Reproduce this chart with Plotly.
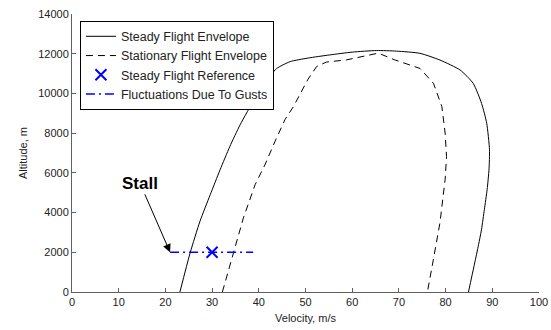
import plotly.graph_objects as go

# Steady flight envelope (solid)
steady_v = [23.1, 25.3, 27.4, 29.6, 31.7, 33.8, 36.0, 39.2, 41.5, 43.8, 46.7, 50.5, 55.2, 60.0, 65.2, 69.5,
            74.5, 78.8, 83.1, 85.9, 87.7, 88.8, 89.4, 89.3, 88.9, 88.3, 87.7, 86.9, 86.1, 84.9]
steady_h = [0, 1970, 3560, 4900, 6150, 7330, 8420, 9760, 10600, 11250, 11600, 11780, 11940, 12080, 12160, 12130,
            12020, 11680, 11180, 10510, 9500, 8500, 7160, 6200, 5170, 4150, 3160, 2200, 1320, 0]

# Stationary flight envelope (dashed)
stat_v = [32.2, 34.5, 36.7, 39.2, 41.3, 43.5, 45.6, 47.4, 48.5, 50.5, 52.4, 54.5, 58.8, 62.5, 65.6, 69.0,
          74.5, 77.4, 79.2, 79.9, 80.2, 79.9, 78.8, 77.4, 76.1]
stat_h = [0, 1970, 3730, 5400, 6400, 7600, 8680, 9330, 9840, 10700, 11360, 11580, 11690, 11860, 12030, 11700,
          11260, 10510, 9340, 8000, 6820, 5670, 3500, 1660, 0]

# Steady flight reference point
ref_v = [30]
ref_h = [2000]

# Fluctuations due to gusts
gust_v = [21.0, 38.8]
gust_h = [2000, 2000]

FONT = "Liberation Sans, Arial"

fig = go.Figure()
fig.add_trace(go.Scatter(x=steady_v, y=steady_h, mode="lines", name="Steady Flight Envelope",
                         line=dict(color="black", width=1, shape="spline", smoothing=0.6)))
fig.add_trace(go.Scatter(x=stat_v, y=stat_h, mode="lines", name="Stationary Flight Envelope",
                         line=dict(color="black", width=1, dash="7px,5px")))
fig.add_trace(go.Scatter(x=ref_v, y=ref_h, mode="markers", name="Steady Flight Reference",
                         marker=dict(symbol="x-thin", size=11, color="blue",
                                     line=dict(color="blue", width=2))))
fig.add_trace(go.Scatter(x=gust_v, y=gust_h, mode="lines", name="Fluctuations Due To Gusts",
                         line=dict(color="blue", width=1.6, dash="9px,4px,2px,4px")))

fig.add_annotation(x=21.0, y=2000, text="<b>Stall</b>", showarrow=True, ax=-30, ay=-69,
                   arrowhead=2, arrowsize=1.6, arrowwidth=1, arrowcolor="black",
                   font=dict(family=FONT, size=17, color="black"))

axis_common = dict(showline=True, linecolor="#606060", linewidth=1, ticks="inside", ticklen=4,
                   tickcolor="#606060", showgrid=False, zeroline=False, mirror=False, automargin=False,
                   tickfont=dict(family=FONT, size=11, color="#222"))

fig.update_xaxes(range=[0, 100], dtick=10, title=dict(text="Velocity, m/s", standoff=7,
                 font=dict(family=FONT, size=11, color="#222")), **axis_common)
fig.update_yaxes(range=[0, 14000], dtick=2000, tickformat="d", title=dict(text="Altitude, m", standoff=8,
                 font=dict(family=FONT, size=11, color="#222")), **axis_common)

fig.update_layout(
    width=551, height=330,
    margin=dict(l=72, r=12, t=14, b=37.5),
    plot_bgcolor="white", paper_bgcolor="white",
    legend=dict(x=0.017, y=0.976, xanchor="left", yanchor="top", bgcolor="white",
                bordercolor="black", borderwidth=1,
                font=dict(family=FONT, size=12.5, color="#222"),
                tracegroupgap=0),
    showlegend=True,
)

fig.write_html("out.html")
